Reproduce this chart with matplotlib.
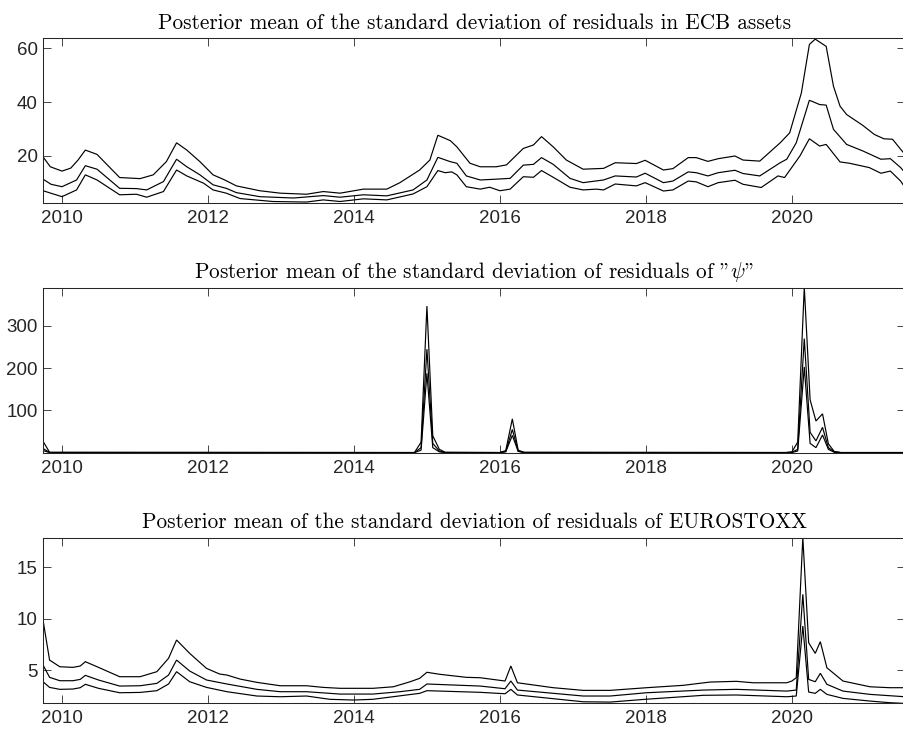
import matplotlib
matplotlib.use('Agg')
import matplotlib.pyplot as plt

plt.rcParams['mathtext.fontset'] = 'cm'
plt.rcParams['font.family'] = ['Liberation Sans', 'DejaVu Sans']

# ---------------- Panel 1: ECB assets ----------------
ecb_hi_t = [2009.74, 2009.84, 2010.00, 2010.12, 2010.22, 2010.32, 2010.48, 2010.79, 2011.07, 2011.25,
            2011.43, 2011.57, 2011.71, 2011.89, 2012.07, 2012.23, 2012.39, 2012.71, 2012.99, 2013.35,
            2013.58, 2013.81, 2014.13, 2014.45, 2014.63, 2014.90, 2015.04, 2015.15, 2015.32, 2015.41,
            2015.59, 2015.73, 2015.95, 2016.09, 2016.32, 2016.46, 2016.57, 2016.73, 2016.91, 2017.14,
            2017.42, 2017.58, 2017.87, 2017.99, 2018.24, 2018.37, 2018.58, 2018.69, 2018.85, 2018.99,
            2019.22, 2019.33, 2019.56, 2019.84, 2019.97, 2020.13, 2020.24, 2020.32, 2020.47, 2020.57,
            2020.66, 2020.75, 2020.97, 2021.13, 2021.26, 2021.38, 2021.49, 2021.55]
ecb_hi_v = [19.7, 16.0, 14.4, 15.5, 18.5, 22.2, 20.6, 12.0, 11.6, 13.0,
            17.9, 24.9, 22.2, 17.9, 13.0, 11.1, 8.9, 7.1, 6.2, 5.8,
            6.8, 6.2, 7.7, 7.7, 10.1, 14.8, 18.5, 27.7, 25.7, 23.4,
            17.3, 16.0, 16.0, 16.7, 22.8, 24.1, 27.2, 23.4, 18.5, 15.1,
            15.4, 17.5, 17.2, 18.4, 14.8, 15.3, 19.4, 19.4, 18.0, 19.0,
            20.0, 18.5, 18.1, 24.9, 28.6, 43.4, 61.4, 63.4, 60.7, 45.9,
            38.5, 35.4, 31.4, 28.0, 26.4, 26.2, 22.5, 20.6]

ecb_mid_t = [2009.74, 2009.85, 2010.00, 2010.20, 2010.32, 2010.48, 2010.79, 2011.02, 2011.16, 2011.39,
             2011.57, 2011.71, 2011.89, 2012.07, 2012.25, 2012.39, 2012.71, 2013.17, 2013.58, 2013.81,
             2014.13, 2014.45, 2014.81, 2015.00, 2015.15, 2015.32, 2015.41, 2015.54, 2015.73, 2015.95,
             2016.14, 2016.32, 2016.46, 2016.57, 2016.73, 2016.96, 2017.14, 2017.42, 2017.58, 2017.87,
             2017.99, 2018.24, 2018.37, 2018.58, 2018.69, 2018.85, 2018.99, 2019.22, 2019.33, 2019.56,
             2019.84, 2019.93, 2020.06, 2020.24, 2020.38, 2020.47, 2020.57, 2020.75, 2020.97, 2021.22,
             2021.35, 2021.49, 2021.55]
ecb_mid_v = [11.4, 9.5, 8.6, 11.1, 16.4, 15.1, 8.0, 7.9, 7.4, 10.5,
             18.8, 16.0, 13.0, 9.3, 8.0, 6.4, 4.9, 4.4, 5.3, 4.7,
             5.6, 5.2, 7.4, 11.1, 19.5, 17.9, 17.3, 12.6, 11.1, 11.4,
             11.7, 16.6, 16.9, 19.4, 16.9, 11.7, 10.1, 11.1, 12.6, 12.2,
             13.6, 10.1, 10.7, 14.1, 13.8, 12.6, 13.8, 14.7, 13.5, 12.6,
             17.5, 18.8, 24.9, 40.7, 39.1, 38.9, 29.9, 24.3, 21.9, 18.8,
             19.0, 15.7, 13.8]

ecb_lo_t = [2009.74, 2010.00, 2010.20, 2010.32, 2010.48, 2010.79, 2011.02, 2011.16, 2011.39, 2011.57,
            2011.71, 2011.94, 2012.07, 2012.25, 2012.44, 2012.89, 2013.35, 2013.58, 2013.81, 2014.13,
            2014.45, 2014.81, 2015.00, 2015.15, 2015.25, 2015.34, 2015.41, 2015.54, 2015.73, 2015.86,
            2016.00, 2016.14, 2016.32, 2016.46, 2016.57, 2016.73, 2016.96, 2017.14, 2017.32, 2017.42,
            2017.58, 2017.87, 2017.99, 2018.24, 2018.37, 2018.58, 2018.69, 2018.85, 2018.99, 2019.22,
            2019.33, 2019.58, 2019.81, 2019.90, 2020.11, 2020.24, 2020.38, 2020.47, 2020.66, 2020.79,
            2021.06, 2021.22, 2021.35, 2021.49, 2021.55]
ecb_lo_v = [7.1, 4.9, 7.4, 13.0, 11.1, 5.6, 5.8, 4.7, 6.8, 14.8,
            12.6, 9.9, 7.4, 6.2, 4.2, 3.1, 2.9, 3.7, 3.1, 4.1,
            3.7, 5.9, 8.6, 14.6, 13.8, 14.1, 13.0, 8.6, 7.7, 8.4,
            7.1, 7.7, 12.3, 12.1, 14.6, 12.1, 8.4, 7.4, 7.7, 7.4,
            9.6, 8.9, 10.1, 7.0, 7.4, 10.7, 10.4, 8.6, 10.1, 11.0,
            9.5, 8.3, 12.6, 12.0, 20.0, 26.4, 23.7, 24.3, 17.8, 17.3,
            15.7, 13.6, 14.4, 10.7, 8.3]

# ---------------- Panel 2: psi ----------------
psi_t = [2009.74, 2009.83, 2014.83, 2014.92, 2015.00, 2015.08, 2015.17, 2015.25,
         2016.00, 2016.08, 2016.17, 2016.25, 2016.33,
         2019.92, 2020.00, 2020.08, 2020.17, 2020.25, 2020.33, 2020.42, 2020.50, 2020.58, 2020.67,
         2021.55]
psi_hi_v = [27, 1.0, 0.5, 25, 347, 40, 8, 1.0,
            0.5, 5, 80, 6, 1.0,
            0.5, 2, 25, 392, 125, 75, 92, 21, 3, 0.5,
            0.5]
psi_mid_v = [10, 0.5, 0.3, 12, 245, 22, 4, 0.5,
             0.3, 3, 55, 4, 0.5,
             0.3, 1, 8, 270, 48, 28, 60, 12, 2, 0.3,
             0.3]
psi_lo_v = [5, 0.3, 0.2, 6, 188, 12, 2, 0.3,
            0.2, 2, 41, 3, 0.3,
            0.2, 0.5, 4, 203, 22, 12, 42, 8, 1, 0.2,
            0.2]

# ---------------- Panel 3: EUROSTOXX ----------------
sx_hi_t = [2009.74, 2009.83, 2009.97, 2010.15, 2010.25, 2010.32, 2010.50, 2010.79, 2011.07, 2011.30,
           2011.46, 2011.57, 2011.75, 2011.98, 2012.16, 2012.26, 2012.44, 2012.67, 2012.99, 2013.35,
           2013.58, 2013.81, 2014.26, 2014.54, 2014.77, 2014.90, 2015.00, 2015.18, 2015.54, 2015.73,
           2016.07, 2016.15, 2016.24, 2016.73, 2017.14, 2017.51, 2018.01, 2018.51, 2018.88, 2019.24,
           2019.47, 2019.93, 2020.00, 2020.06, 2020.15, 2020.23, 2020.32, 2020.39, 2020.48, 2020.70,
           2021.07, 2021.34, 2021.55]
sx_hi_v = [9.87, 5.97, 5.32, 5.26, 5.39, 5.81, 5.26, 4.35, 4.35, 4.84,
           6.14, 7.92, 6.62, 5.16, 4.61, 4.51, 4.12, 3.80, 3.47, 3.47,
           3.31, 3.22, 3.22, 3.37, 3.86, 4.19, 4.78, 4.58, 4.29, 4.25,
           3.93, 5.39, 3.76, 3.28, 3.02, 3.02, 3.28, 3.51, 3.83, 3.90,
           3.76, 3.76, 3.93, 4.25, 17.9, 7.66, 6.62, 7.76, 5.22, 3.93,
           3.37, 3.28, 3.28]

sx_mid_t = [2009.74, 2009.83, 2009.97, 2010.15, 2010.25, 2010.32, 2010.50, 2010.79, 2011.07, 2011.30,
            2011.46, 2011.57, 2011.75, 2011.98, 2012.26, 2012.67, 2012.99, 2013.35, 2013.81, 2014.26,
            2014.63, 2014.90, 2015.00, 2015.73, 2016.07, 2016.15, 2016.24, 2017.14, 2017.51, 2018.01,
            2018.79, 2019.24, 2019.93, 2020.06, 2020.15, 2020.23, 2020.32, 2020.39, 2020.48, 2020.70,
            2021.07, 2021.55]
sx_mid_v = [5.49, 4.29, 3.96, 3.96, 4.09, 4.48, 4.03, 3.44, 3.47, 3.70,
            4.51, 5.97, 4.90, 4.03, 3.64, 3.12, 2.89, 2.89, 2.66, 2.66,
            2.89, 3.12, 3.64, 3.44, 3.18, 3.93, 3.05, 2.47, 2.47, 2.79,
            3.05, 3.12, 2.95, 3.05, 12.37, 4.09, 3.86, 4.68, 3.61, 2.95,
            2.63, 2.40]

sx_lo_t = [2009.74, 2009.83, 2009.97, 2010.15, 2010.25, 2010.32, 2010.50, 2010.79, 2011.07, 2011.30,
           2011.46, 2011.57, 2011.75, 2011.98, 2012.26, 2012.67, 2012.99, 2013.35, 2013.67, 2013.99,
           2014.26, 2014.72, 2014.90, 2015.00, 2015.73, 2016.07, 2016.15, 2016.24, 2017.14, 2017.51,
           2017.99, 2018.79, 2019.24, 2019.93, 2020.06, 2020.15, 2020.23, 2020.32, 2020.39, 2020.48,
           2020.70, 2021.07, 2021.34, 2021.55]
sx_lo_v = [3.86, 3.31, 3.12, 3.15, 3.28, 3.61, 3.22, 2.79, 2.82, 2.99,
           3.64, 4.84, 3.86, 3.31, 2.89, 2.47, 2.40, 2.47, 2.15, 2.08,
           2.15, 2.57, 2.73, 2.99, 2.83, 2.69, 3.12, 2.57, 1.91, 1.88,
           2.15, 2.54, 2.57, 2.40, 2.47, 9.28, 2.86, 2.73, 3.12, 2.63,
           2.24, 1.98, 1.82, 1.75]

titles = [
    'Posterior mean of the standard deviation of residuals in ECB assets',
    'Posterior mean of the standard deviation of residuals of "$\\psi$"',
    'Posterior mean of the standard deviation of residuals of EUROSTOXX',
]
xticks = [2010, 2012, 2014, 2016, 2018, 2020]
xlim = (2009.744, 2021.55)
ylims = [(2.66, 63.7), (0.0, 390.5), (1.82, 17.88)]
yticks = [[20, 40, 60], [100, 200, 300], [5, 10, 15]]

series = [
    [(ecb_hi_t, ecb_hi_v), (ecb_mid_t, ecb_mid_v), (ecb_lo_t, ecb_lo_v)],
    [(psi_t, psi_hi_v), (psi_t, psi_mid_v), (psi_t, psi_lo_v)],
    [(sx_hi_t, sx_hi_v), (sx_mid_t, sx_mid_v), (sx_lo_t, sx_lo_v)],
]

W, H = 904, 733
fig = plt.figure(figsize=(W / 100, H / 100), dpi=100)
boxes = [(38.3, 202.7), (287.7, 452.7), (537.7, 702.7)]
left, right = 43.3, 905.0
axc = '#262626'

for i, (top, bottom) in enumerate(boxes):
    ax = fig.add_axes([left / W, 1 - bottom / H, (right - left) / W, (bottom - top) / H])
    for t, v in series[i]:
        ax.plot(t, v, color='black', lw=0.85, solid_joinstyle='miter')
    ax.set_xlim(*xlim)
    ax.set_ylim(*ylims[i])
    ax.set_xticks(xticks)
    ax.set_yticks(yticks[i])
    ax.tick_params(direction='in', length=5.8, width=0.6, color=axc, top=True, right=True,
                   labelsize=13.5, labelcolor=axc)
    ax.tick_params(axis='x', pad=5)
    ax.tick_params(axis='y', pad=4)
    for s in ax.spines.values():
        s.set_color(axc)
        s.set_linewidth(0.75)
    ax.set_title(titles[i], family='cmr10', fontsize=15.3, pad=7, color='black')

fig.savefig('out.png', dpi=100)
